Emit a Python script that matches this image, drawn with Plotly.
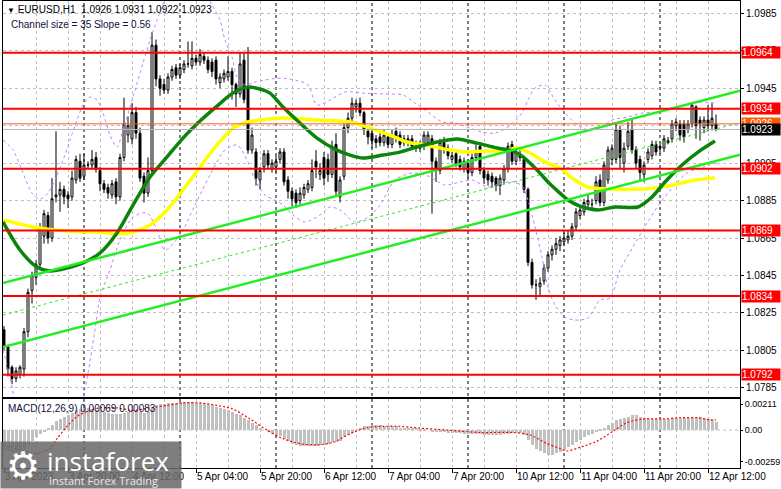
import plotly.graph_objects as go

# ---------------- data ----------------
bars = list(range(179))  # H1 bars, 3 Apr 04:00 ... 12 Apr 14:00

opens = [1.0816,1.0807,1.0796,1.0790,1.0792,1.0795,1.0815,1.0837,1.0844,1.0851,
         1.0866,1.0877,1.0865,1.0887,1.0888,1.0891,1.0888,1.0887,1.0896,1.0906,
         1.0898,1.0904,1.0904,1.0908,1.0901,1.0894,1.0892,1.0888,1.0895,1.0887,
         1.0908,1.0920,1.0918,1.0932,1.0921,1.0898,1.0889,1.0901,1.0968,1.0950,
         1.0947,1.0944,1.0951,1.0956,1.0952,1.0955,1.0958,1.0957,1.0961,1.0959,
         1.0962,1.0960,1.0959,1.0960,1.0948,1.0950,1.0951,1.0954,1.0947,1.0942,
         1.0960,1.0945,1.0912,1.0911,1.0896,1.0903,1.0910,1.0902,1.0903,1.0907,
         1.0911,1.0896,1.0890,1.0889,1.0885,1.0888,1.0891,1.0892,1.0906,1.0899,
         1.0908,1.0907,1.0899,1.0915,1.0887,1.0898,1.0924,1.0929,1.0935,1.0937,
         1.0932,1.0922,1.0921,1.0918,1.0919,1.0916,1.0919,1.0915,1.0922,1.0920,
         1.0918,1.0916,1.0918,1.0913,1.0913,1.0914,1.0916,1.0918,1.0906,1.0901,
         1.0916,1.0913,1.0907,1.0910,1.0907,1.0902,1.0905,1.0900,1.0908,1.0914,
         1.0901,1.0899,1.0898,1.0897,1.0893,1.0896,1.0902,1.0915,1.0906,1.0910,
         1.0907,1.0891,1.0852,1.0840,1.0839,1.0842,1.0849,1.0856,1.0859,1.0861,
         1.0863,1.0864,1.0866,1.0871,1.0877,1.0879,1.0883,1.0883,1.0885,1.0896,
         1.0884,1.0896,1.0907,1.0907,1.0923,1.0905,1.0914,1.0923,1.0912,1.0907,
         1.0899,1.0907,1.0909,1.0915,1.0914,1.0913,1.0916,1.0918,1.0925,1.0926,
         1.0926,1.0923,1.0926,1.0935,1.0928,1.0924,1.0928,1.0925,1.0926]
highs = [1.0818,1.0808,1.0797,1.0796,1.0797,1.0817,1.0838,1.0847,1.0853,1.0873,
         1.0880,1.0879,1.0897,1.0922,1.0895,1.0893,1.0890,1.0901,1.0909,1.0910,
         1.0910,1.0906,1.0912,1.0911,1.0903,1.0896,1.0894,1.0896,1.0897,1.0910,
         1.0940,1.0930,1.0937,1.0935,1.0924,1.0900,1.0908,1.0975,1.0971,1.0952,
         1.0950,1.0953,1.0957,1.0958,1.0958,1.0960,1.0970,1.0970,1.0963,1.0966,
         1.0964,1.0962,1.0961,1.0962,1.0953,1.0955,1.0962,1.0956,1.0948,1.0964,
         1.0964,1.0967,1.0924,1.0913,1.0903,1.0912,1.0912,1.0907,1.0909,1.0913,
         1.0913,1.0898,1.0892,1.0891,1.0892,1.0894,1.0896,1.0907,1.0912,1.0905,
         1.0911,1.0910,1.0917,1.0921,1.0898,1.0926,1.0932,1.0940,1.0939,1.0940,
         1.0933,1.0924,1.0924,1.0920,1.0921,1.0923,1.0921,1.0923,1.0924,1.0922,
         1.0920,1.0920,1.0920,1.0917,1.0917,1.0922,1.0922,1.0920,1.0908,1.0918,
         1.0919,1.0915,1.0911,1.0912,1.0909,1.0908,1.0907,1.0910,1.0915,1.0916,
         1.0903,1.0901,1.0900,1.0898,1.0899,1.0904,1.0916,1.0917,1.0913,1.0912,
         1.0909,1.0892,1.0854,1.0843,1.0844,1.0851,1.0858,1.0861,1.0865,1.0866,
         1.0868,1.0869,1.0873,1.0881,1.0882,1.0886,1.0888,1.0886,1.0898,1.0899,
         1.0906,1.0914,1.0915,1.0927,1.0925,1.0916,1.0927,1.0929,1.0914,1.0909,
         1.0906,1.0913,1.0917,1.0917,1.0916,1.0920,1.0919,1.0928,1.0929,1.0928,
         1.0928,1.0928,1.0937,1.0936,1.0930,1.0930,1.0936,1.0937,1.0931]
lows = [1.0805,1.0791,1.0787,1.0788,1.0790,1.0791,1.0812,1.0830,1.0840,1.0849,
        1.0862,1.0862,1.0863,1.0884,1.0879,1.0883,1.0881,1.0885,1.0894,1.0895,
        1.0896,1.0902,1.0902,1.0900,1.0890,1.0889,1.0886,1.0886,1.0883,1.0885,
        1.0906,1.0916,1.0915,1.0918,1.0895,1.0884,1.0887,1.0899,1.0946,1.0941,
        1.0942,1.0942,1.0949,1.0950,1.0950,1.0953,1.0956,1.0955,1.0957,1.0957,
        1.0958,1.0953,1.0951,1.0947,1.0945,1.0948,1.0949,1.0939,1.0935,1.0940,
        1.0937,1.0910,1.0910,1.0893,1.0891,1.0900,1.0902,1.0900,1.0900,1.0905,
        1.0893,1.0886,1.0882,1.0881,1.0883,1.0886,1.0889,1.0890,1.0897,1.0896,
        1.0893,1.0895,1.0897,1.0887,1.0884,1.0896,1.0921,1.0927,1.0932,1.0930,
        1.0920,1.0915,1.0913,1.0913,1.0914,1.0914,1.0913,1.0913,1.0916,1.0913,
        1.0914,1.0914,1.0912,1.0911,1.0911,1.0912,1.0914,1.0878,1.0895,1.0899,
        1.0910,1.0907,1.0905,1.0903,1.0901,1.0900,1.0897,1.0898,1.0906,1.0899,
        1.0894,1.0893,1.0892,1.0890,1.0888,1.0894,1.0900,1.0904,1.0904,1.0906,
        1.0889,1.0850,1.0838,1.0832,1.0834,1.0840,1.0847,1.0853,1.0856,1.0858,
        1.0861,1.0862,1.0864,1.0869,1.0875,1.0877,1.0881,1.0881,1.0883,1.0882,
        1.0882,1.0894,1.0904,1.0905,1.0902,1.0900,1.0912,1.0910,1.0902,1.0896,
        1.0895,1.0905,1.0907,1.0909,1.0910,1.0911,1.0915,1.0916,1.0922,1.0917,
        1.0916,1.0921,1.0924,1.0918,1.0917,1.0921,1.0922,1.0923,1.0922]
closes = [1.0807,1.0795,1.0790,1.0794,1.0796,1.0815,1.0836,1.0845,1.0851,1.0871,
          1.0878,1.0865,1.0886,1.0888,1.0891,1.0887,1.0886,1.0897,1.0907,1.0897,
          1.0904,1.0904,1.0907,1.0902,1.0894,1.0891,1.0889,1.0894,1.0887,1.0908,
          1.0926,1.0925,1.0932,1.0921,1.0897,1.0889,1.0901,1.0968,1.0950,1.0945,
          1.0944,1.0951,1.0955,1.0952,1.0956,1.0958,1.0958,1.0961,1.0959,1.0963,
          1.0960,1.0955,1.0954,1.0950,1.0951,1.0953,1.0954,1.0947,1.0942,1.0958,
          1.0939,1.0912,1.0920,1.0897,1.0901,1.0910,1.0904,1.0905,1.0906,1.0911,
          1.0895,1.0890,1.0886,1.0884,1.0889,1.0892,1.0894,1.0901,1.0903,1.0901,
          1.0897,1.0899,1.0914,1.0890,1.0896,1.0924,1.0929,1.0937,1.0937,1.0932,
          1.0923,1.0919,1.0917,1.0916,1.0916,1.0920,1.0915,1.0920,1.0918,1.0915,
          1.0916,1.0918,1.0914,1.0915,1.0915,1.0920,1.0920,1.0906,1.0901,1.0916,
          1.0912,1.0909,1.0909,1.0905,1.0903,1.0906,1.0900,1.0908,1.0911,1.0901,
          1.0897,1.0896,1.0895,1.0893,1.0897,1.0902,1.0914,1.0906,1.0911,1.0908,
          1.0891,1.0852,1.0840,1.0840,1.0841,1.0849,1.0856,1.0859,1.0862,1.0864,
          1.0865,1.0866,1.0871,1.0879,1.0880,1.0884,1.0885,1.0883,1.0895,1.0884,
          1.0904,1.0912,1.0913,1.0923,1.0908,1.0913,1.0922,1.0912,1.0905,1.0900,
          1.0904,1.0911,1.0915,1.0911,1.0913,1.0918,1.0917,1.0926,1.0927,1.0920,
          1.0919,1.0926,1.0936,1.0925,1.0926,1.0928,1.0925,1.0929,1.0923]

# moving averages (sampled along the drawn curves)
green_idx = [-0.25,4,8.25,11.5,15.75,19.75,24,28.25,32.25,36.5,40.75,44.75,49,53.25,57.25,
             60.75,64,66.5,69.75,74,78.25,82.75,86.5,89.75,94.75,99,103.25,108.25,113.25,
             118.25,123.25,127.25,129.75,133.25,136.5,139,141,144.5,148.5,152.75,158.5,162,
             165.25,169.5,173.5,177.75]
green_val = [1.08736,1.08586,1.08495,1.08474,1.08490,1.08517,1.08570,1.08677,1.08826,1.08976,
             1.09083,1.09184,1.09275,1.09355,1.09424,1.09456,1.09446,1.09424,1.09350,1.09264,
             1.09184,1.09125,1.09093,1.09077,1.09093,1.09109,1.09136,1.09163,1.09179,1.09157,
             1.09131,1.09115,1.09083,1.09013,1.08938,1.08890,1.08853,1.08816,1.08800,1.08816,
             1.08816,1.08869,1.08949,1.09040,1.09109,1.09168]
yellow_idx = [-0.25,7.25,15.75,24,28.25,32.25,36.5,40.75,44.75,49,53.25,57.25,60.75,64,69.75,
              78.25,86.5,90.75,96.5,100.75,105.25,111.5,115.75,119.75,124.75,128.25,131.5,
              135.25,139,142,146,150.25,159.5,164.5,169.5,172.75,177.75]
yellow_val = [1.08746,1.08709,1.08687,1.08682,1.08671,1.08682,1.08720,1.08800,1.08906,1.09029,
              1.09147,1.09237,1.09270,1.09280,1.09291,1.09280,1.09270,1.09243,1.09200,1.09163,
              1.09147,1.09120,1.09109,1.09115,1.09115,1.09131,1.09104,1.09056,1.09024,1.08971,
              1.08922,1.08912,1.08912,1.08922,1.08944,1.08960,1.08971]

# envelope bands (purple dashed)
upper_idx = [-0.25,2.25,4.5,7,9,11,12.75,14.5,16.5,18.25,19.75,21.5,23.25,24.75,26.5,28.25,29.75,
             32.25,34.75,36.5,38.25,40.25,44,49,52,54,55.25,57,58.25,60.25,62.75,65.25,69,72.75,
             76,78.25,81.5,85.25,89.75,95.25,99.75,102.75,106,109.5,112.75,116.5,119.5,122.75,
             126,129.5,131,132.75,135.25,137.75,140.25,142.75,146,149,152,155.75,159.75,164,
             167.75,171.5,174.75,177.75]
upper_val = [1.09173,1.09120,1.09013,1.08890,1.08858,1.08890,1.08960,1.09051,1.09173,1.09280,
             1.09360,1.09403,1.09387,1.09318,1.09200,1.09136,1.09227,1.09403,1.09585,1.09707,
             1.09814,1.09921,1.10000,1.10000,1.09894,1.09814,1.09707,1.09617,1.09510,1.09467,
             1.09483,1.09494,1.09504,1.09494,1.09467,1.09360,1.09387,1.09430,1.09424,1.09419,
             1.09414,1.09371,1.09323,1.09270,1.09264,1.09237,1.09216,1.09211,1.09243,1.09318,
             1.09387,1.09451,1.09467,1.09387,1.09318,1.09264,1.09227,1.09237,1.09280,1.09296,
             1.09318,1.09323,1.09344,1.09371,1.09376,1.09371]
lower_idx = [-0.25,1.5,2.5,4,11.5,17.75,19.75,21,22.75,24,26.5,29,32.25,35.75,38.25,40.25,44,
             47.75,51.5,55.25,58.25,60.75,62.75,65.25,67.75,69.75,72.25,75.25,79,81.5,84,87.75,
             91,94,97.75,102,106,110.25,114,117,121,124.5,127.75,129.75,131,132.75,134.5,136,
             137.75,140.25,142.75,146,149,151.5,154,157.25,160.75,164,167.25,170.75,174.75,178.25]
lower_val = [1.08052,1.07908,1.07801,1.07678,1.07518,1.07678,1.07801,1.07929,1.08159,1.08335,
             1.08479,1.08639,1.08762,1.08784,1.08693,1.08586,1.08666,1.08826,1.08987,1.09120,
             1.09147,1.09067,1.08960,1.08880,1.08853,1.08826,1.08773,1.08736,1.08773,1.08816,
             1.08800,1.08736,1.08762,1.08826,1.08960,1.08997,1.08981,1.08933,1.08949,1.08960,
             1.08922,1.08944,1.08949,1.08922,1.08853,1.08709,1.08549,1.08388,1.08292,1.08228,
             1.08212,1.08223,1.08319,1.08330,1.08479,1.08602,1.08730,1.08837,1.08922,1.08997,
             1.09029,1.09051]

# linear regression channel (end points of the rays)
channel_idx = [-0.25, 184]
channel_upper = [1.08410, 1.09437]
channel_mid = [1.08239, 1.09266]
channel_lower = [1.08068, 1.09095]

# horizontal levels
levels = [1.0964, 1.0934, 1.0902, 1.0869, 1.0834, 1.0792]
bid_price = 1.0926
last_price = 1.0923

# MACD(12,26,9)
macd_main = [-0.0016,-0.0017,-0.0018,-0.0018,-0.0017,-0.0015,-0.0012,-0.0009,-0.0006,-0.0003,
             -0.0001,0.0002,0.0004,0.0007,0.0009,0.0011,0.0012,0.0014,0.0016,0.0017,
             0.0018,0.0018,0.0017,0.0016,0.0016,0.0015,0.0014,0.0013,0.0013,0.0013,
             0.0014,0.0015,0.0016,0.0016,0.0015,0.0014,0.0015,0.0018,0.0020,0.0021,
             0.0021,0.0022,0.0022,0.0022,0.0023,0.0023,0.0023,0.0023,0.0022,0.0022,
             0.0022,0.0021,0.0020,0.0019,0.0018,0.0017,0.0016,0.0015,0.0013,0.0012,
             0.0010,0.0008,0.0006,0.0004,0.0002,0.0000,-0.0001,-0.0003,-0.0004,-0.0005,
             -0.0007,-0.0009,-0.0011,-0.0012,-0.0013,-0.0013,-0.0013,-0.0013,-0.0013,-0.0012,
             -0.0012,-0.0011,-0.0010,-0.0010,-0.0009,-0.0006,-0.0004,-0.0002,0.0000,0.0002,
             0.0003,0.0003,0.0004,0.0004,0.0004,0.0003,0.0003,0.0003,0.0003,0.0002,
             0.0002,0.0002,0.0002,0.0002,0.0001,0.0001,0.0000,-0.0001,-0.0001,-0.0001,
             -0.0001,-0.0002,-0.0002,-0.0002,-0.0002,-0.0003,-0.0003,-0.0003,-0.0003,-0.0003,
             -0.0004,-0.0004,-0.0004,-0.0004,-0.0004,-0.0003,-0.0003,-0.0002,-0.0002,-0.0002,
             -0.0004,-0.0008,-0.0012,-0.0015,-0.0017,-0.0019,-0.0020,-0.0020,-0.0019,-0.0018,
             -0.0016,-0.0014,-0.0012,-0.0010,-0.0008,-0.0006,-0.0004,-0.0003,-0.0001,0.0001,
             0.0002,0.0004,0.0006,0.0008,0.0009,0.0010,0.0011,0.0012,0.0012,0.0011,
             0.0010,0.0010,0.0009,0.0009,0.0009,0.0009,0.0009,0.0010,0.0010,0.0010,
             0.0010,0.0010,0.0011,0.0011,0.0011,0.0010,0.0009,0.0008,0.00069]
sig_idx = [-0.25,4,8,11.5,13.25,15.75,18.25,20.75,24,28.25,32.25,36.5,40.75,44.75,49,53.25,57.25,
           61.5,65.75,69.75,74,78.25,82.25,86.5,90.75,94.75,99,102.25,110.75,119,127.25,131.5,
           135.75,139,140.75,144,148.25,152.25,155.75,159.75,164.75,169,173.25,176.5,178]
sig_val = [-0.0012,-0.0016,-0.0019,-0.0015,-0.0007,0.0003,0.0011,0.0015,0.0018,0.0018,
           0.0016,0.0018,0.0020,0.0022,0.0022,0.0020,0.0017,0.0009,0.0000,-0.0007,
           -0.0011,-0.0012,-0.0010,-0.0003,0.0002,0.0003,0.0003,0.0002,0.0000,-0.0002,
           -0.0002,-0.0004,-0.0011,-0.0015,-0.0017,-0.0014,-0.0009,-0.0001,0.0006,0.0009,
           0.0009,0.0010,0.0010,0.00083,0.00083]

# axes
price_ticks = [1.0785,1.0805,1.0825,1.0845,1.0865,1.0885,1.0905,1.0925,1.0945,1.0965,1.0985]
macd_ticks = [0.00211, 0.0, -0.00259]
macd_tick_text = ["0.00211", "0.00", "-0.00259"]
label_idx = [0,16,32,48,64,80,96,112,128,144,160,176]
labels = ["3 Apr 2023","3 Apr 20:00","4 Apr 12:00","5 Apr 04:00","5 Apr 20:00","6 Apr 12:00",
          "7 Apr 04:00","7 Apr 20:00","10 Apr 12:00","11 Apr 04:00","11 Apr 20:00","12 Apr 12:00"]
day_starts = [20,44,68,92,116,140,164]

# ---------------- figure ----------------
W, H = 781, 489
ML, MR, MT, MB = 3, 41, 1, 21
PW, PH = W - ML - MR, H - MT - MB
def px(x):  # pixel -> paper x
    return (x - ML) / PW
def py(y):  # pixel -> paper y
    return (H - MB - y) / PH

FONT = "Liberation Sans"
GRID = "#c0c0c0"

fig = go.Figure()
fig.add_trace(go.Candlestick(
    x=bars, open=opens, high=highs, low=lows, close=closes,
    increasing=dict(line=dict(color="black", width=1), fillcolor="white"),
    decreasing=dict(line=dict(color="black", width=1), fillcolor="black"),
    whiskerwidth=0, xaxis="x", yaxis="y", showlegend=False, hoverinfo="skip"))

band_style = dict(color="#c77dff", width=1, dash="3px,3px", shape="spline", smoothing=0.8)
fig.add_trace(go.Scatter(x=upper_idx, y=upper_val, mode="lines", line=band_style,
                         xaxis="x", yaxis="y", showlegend=False, hoverinfo="skip"))
fig.add_trace(go.Scatter(x=lower_idx, y=lower_val, mode="lines", line=band_style,
                         xaxis="x", yaxis="y", showlegend=False, hoverinfo="skip"))
fig.add_trace(go.Scatter(x=yellow_idx, y=yellow_val, mode="lines",
                         line=dict(color="#ffff00", width=3.5, shape="spline", smoothing=0.8),
                         xaxis="x", yaxis="y", showlegend=False, hoverinfo="skip"))
fig.add_trace(go.Scatter(x=green_idx, y=green_val, mode="lines",
                         line=dict(color="#0b840b", width=3.5, shape="spline", smoothing=0.8),
                         xaxis="x", yaxis="y", showlegend=False, hoverinfo="skip"))
for vals, w, d in [(channel_upper, 2.5, "solid"), (channel_mid, 1, "3px,3px"), (channel_lower, 2.5, "solid")]:
    fig.add_trace(go.Scatter(x=channel_idx, y=vals, mode="lines",
                             line=dict(color="#22ee22", width=w, dash=d),
                             xaxis="x", yaxis="y", showlegend=False, hoverinfo="skip"))

fig.add_trace(go.Bar(x=bars, y=macd_main, marker=dict(color="#c0c0c0", line=dict(width=0)),
                     width=0.75, xaxis="x2", yaxis="y2", showlegend=False, hoverinfo="skip"))
fig.add_trace(go.Scatter(x=sig_idx, y=sig_val, mode="lines",
                         line=dict(color="#ff0000", width=1.2, dash="2px,2px", shape="spline", smoothing=0.8),
                         xaxis="x2", yaxis="y2", showlegend=False, hoverinfo="skip"))

shapes = []
for d in day_starts:
    shapes.append(dict(type="line", xref="x", x0=d, x1=d, yref="paper", y0=0, y1=1,
                       line=dict(color="black", width=1, dash="3px,3px"), layer="below"))
shapes.append(dict(type="line", xref="paper", x0=0, x1=1, yref="y2", y0=0, y1=0,
                   line=dict(color=GRID, width=1, dash="3px,3px"), layer="below"))
shapes.append(dict(type="line", xref="paper", x0=0, x1=1, yref="y", y0=bid_price, y1=bid_price,
                   line=dict(color="#ff5a28", width=1)))
shapes.append(dict(type="line", xref="paper", x0=0, x1=1, yref="y", y0=last_price, y1=last_price,
                   line=dict(color="#b4b4b4", width=1)))
for lv in levels:
    shapes.append(dict(type="line", xref="paper", x0=0, x1=1, yref="y", y0=lv, y1=lv,
                       line=dict(color="#ff0000", width=2)))

ann = []
def price_box(v, bg, fg="white"):
    ann.append(dict(xref="paper", x=1, xanchor="left", xshift=1, yref="y", y=v, yanchor="middle",
                    text=f"{v:.4f}", showarrow=False, bgcolor=bg, width=38, height=11,
                    borderpad=0, align="left", font=dict(family=FONT, size=10, color=fg)))
for lv in levels:
    price_box(lv, "#ff0000")
price_box(bid_price, "#ff5a00")
price_box(last_price, "#000000")

# time labels, written to the right of their tick like the terminal does
for i, t in zip(label_idx, labels):
    ann.append(dict(xref="x", x=i, xanchor="left", xshift=-1, yref="paper", y=py(477),
                    yanchor="middle", text=t, showarrow=False,
                    font=dict(family=FONT, size=10, color="black")))

ann.append(dict(xref="paper", yref="paper", x=px(5), y=py(9), xanchor="left", yanchor="middle",
                text="<span style='font-size:8px'>▼</span> EURUSD,H1  1.0926 1.0931 1.0922 1.0923",
                showarrow=False, font=dict(family=FONT, size=10, color="black")))
ann.append(dict(xref="paper", yref="paper", x=px(9), y=py(24), xanchor="left", yanchor="middle",
                text="Channel size = 35 Slope = 0.56", showarrow=False,
                font=dict(family=FONT, size=10, color="#101040")))
ann.append(dict(xref="paper", yref="paper", x=px(6), y=py(408), xanchor="left", yanchor="middle",
                text="MACD(12,26,9) 0.00069 0.00083", showarrow=False,
                font=dict(family=FONT, size=10, color="#101040")))
# watermark (drawn over the first time labels)
ann.append(dict(xref="paper", yref="paper", x=px(0), y=py(489), xanchor="left", yanchor="bottom",
                text=" ", showarrow=False, width=180, height=46, borderpad=0,
                bgcolor="rgba(105,105,105,0.86)"))
ann.append(dict(xref="paper", yref="paper", x=px(4), y=py(466), xanchor="left", yanchor="middle",
                text="⚙", showarrow=False, font=dict(family="DejaVu Sans", size=38, color="white")))
ann.append(dict(xref="paper", yref="paper", x=px(45), y=py(461), xanchor="left", yanchor="middle",
                text="instaforex", showarrow=False, font=dict(family="Open Sans", size=26, color="white")))
ann.append(dict(xref="paper", yref="paper", x=px(47), y=py(480), xanchor="left", yanchor="middle",
                text="Instant Forex Trading", showarrow=False,
                font=dict(family="Open Sans", size=11, color="#e8e8e8")))

axis_common = dict(showline=True, linecolor="black", linewidth=1, mirror=True, zeroline=False)
fig.update_layout(
    width=W, height=H, margin=dict(l=ML, r=MR, t=MT, b=MB, autoexpand=False),
    paper_bgcolor="white", plot_bgcolor="white", showlegend=False, bargap=0,
    font=dict(family=FONT, size=10, color="black"),
    xaxis=dict(domain=[0, 1], range=[-0.25, 184], anchor="y", showticklabels=False,
               tick0=0, dtick=8, ticks="", showgrid=True, gridcolor=GRID, griddash="3px,3px",
               rangeslider=dict(visible=False), **axis_common),
    xaxis2=dict(domain=[0, 1], matches="x", anchor="y2", tickmode="array",
                tickvals=label_idx, ticktext=labels, showticklabels=False,
                ticks="outside", ticklen=4, tickcolor="black",
                showgrid=True, gridcolor=GRID, griddash="3px,3px",
                minor=dict(tick0=0, dtick=8, showgrid=True, gridcolor=GRID, griddash="3px,3px", ticks=""),
                **axis_common),
    yaxis=dict(domain=[py(397), 1], range=[1.07801, 1.09916], side="right", anchor="x",
               tickmode="array", tickvals=price_ticks, ticktext=[f"{v:.4f}" for v in price_ticks],
               ticks="outside", ticklen=3, tickcolor="black", showgrid=True, gridcolor=GRID,
               griddash="3px,3px", tickfont=dict(family=FONT, size=10, color="black"), **axis_common),
    yaxis2=dict(domain=[0, py(399)], range=[-0.00308, 0.00252], side="right", anchor="x2",
                tickmode="array", tickvals=macd_ticks, ticktext=macd_tick_text,
                ticks="outside", ticklen=2, tickcolor="black", showgrid=False,
                tickfont=dict(family=FONT, size=9, color="black"), **axis_common),
    shapes=shapes, annotations=ann,
)

fig.write_html("out.html", config={"displayModeBar": False},
               post_script="document.body.style.margin='0px';")
